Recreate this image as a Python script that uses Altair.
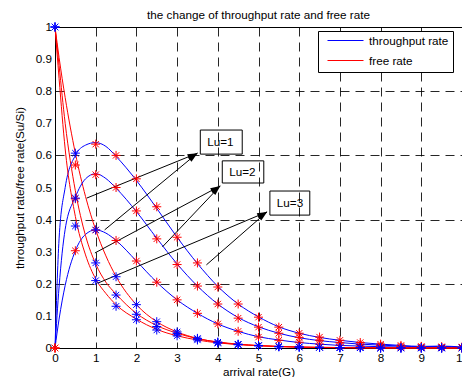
import math
import altair as alt
import pandas as pd

# ---------------- data ----------------
G_MARK = [0, 0.5, 1, 1.5, 2, 2.5, 3, 3.5, 4, 4.5, 5, 5.5, 6, 6.5, 7, 7.5, 8, 8.5, 9, 9.5, 10]

THR1_MARK = [0, 0.303, 0.367, 0.335, 0.271, 0.205, 0.150, 0.108, 0.075, 0.052, 0.034, 0.024, 0.018, 0.012, 0.008, 0.005, 0.003, 0.002, 0.001, 0.001, 0.0]
THR2_MARK = [0, 0.465, 0.540, 0.500, 0.427, 0.340, 0.260, 0.193, 0.137, 0.093, 0.065, 0.046, 0.033, 0.024, 0.016, 0.011, 0.008, 0.005, 0.003, 0.002, 0.001]
THR3_MARK = [0, 0.570, 0.635, 0.600, 0.527, 0.440, 0.345, 0.265, 0.190, 0.137, 0.096, 0.065, 0.046, 0.034, 0.024, 0.017, 0.012, 0.008, 0.005, 0.004, 0.003]

FREE1_MARK = [1, 0.607, 0.368, 0.222, 0.135, 0.082, 0.050, 0.030, 0.018, 0.011, 0.007, 0.004, 0.003, 0.002, 0.001, 0.001, 0.0, 0.0, 0.0, 0.0, 0.0]
FREE2_MARK = [1, 0.467, 0.265, 0.165, 0.105, 0.067, 0.045, 0.028, 0.018, 0.012, 0.008, 0.005, 0.003, 0.002, 0.001, 0.001, 0.0, 0.0, 0.0, 0.0, 0.0]
FREE3_MARK = [1, 0.380, 0.210, 0.130, 0.088, 0.056, 0.038, 0.025, 0.015, 0.010, 0.007, 0.004, 0.003, 0.002, 0.001, 0.001, 0.0, 0.0, 0.0, 0.0, 0.0]

G_LINE = [0, 0.1, 0.25, 0.5, 0.75, 1, 1.25, 1.5, 2, 2.5, 3, 3.5, 4, 4.5, 5, 5.5, 6, 6.5, 7, 7.5, 8, 8.5, 9, 9.5, 10]

THR1_LINE = [0, 0.09, 0.195, 0.303, 0.354, 0.368, 0.358, 0.335, 0.271, 0.205, 0.150, 0.108, 0.075, 0.052, 0.035, 0.025, 0.017, 0.012, 0.008, 0.006, 0.004, 0.003, 0.002, 0.003, 0.001]
THR2_LINE = [0, 0.19, 0.37, 0.47, 0.527, 0.543, 0.528, 0.498, 0.425, 0.342, 0.262, 0.193, 0.137, 0.095, 0.066, 0.046, 0.032, 0.023, 0.017, 0.012, 0.009, 0.006, 0.004, 0.005, 0.002]
THR3_LINE = [0, 0.34, 0.50, 0.60, 0.632, 0.640, 0.628, 0.597, 0.522, 0.435, 0.345, 0.263, 0.192, 0.137, 0.097, 0.066, 0.046, 0.033, 0.024, 0.017, 0.012, 0.008, 0.005, 0.006, 0.003]

FREE1_LINE = [1, 0.905, 0.78, 0.607, 0.472, 0.368, 0.287, 0.223, 0.135, 0.082, 0.050, 0.030, 0.018, 0.011, 0.007, 0.004, 0.0025, 0.0015, 0.001, 0.0006, 0.0003, 0.0002, 0.0001, 0.0, 0.0]
FREE2_LINE = [1, 0.88, 0.70, 0.49, 0.35, 0.262, 0.205, 0.168, 0.108, 0.070, 0.046, 0.029, 0.019, 0.012, 0.008, 0.005, 0.003, 0.002, 0.0015, 0.001, 0.0005, 0.0003, 0.0002, 0.0001, 0.0]
FREE3_LINE = [1, 0.84, 0.62, 0.41, 0.29, 0.215, 0.170, 0.135, 0.090, 0.058, 0.038, 0.025, 0.016, 0.011, 0.007, 0.005, 0.003, 0.002, 0.0013, 0.0008, 0.0005, 0.0003, 0.0002, 0.0001, 0.0]

SERIES_NAMES = ["throughput rate", "free rate"]
LU_LABELS = ["Lu=1", "Lu=2", "Lu=3"]

# annotation boxes (data coordinates)
BOX_G0 = [3.57, 4.11, 5.28]
BOX_G1 = [4.60, 5.13, 6.26]
BOX_Y0 = [0.604, 0.514, 0.414]
BOX_Y1 = [0.679, 0.583, 0.489]

# arrows: start on a curve, head at the box
ARROW_G0 = [0.78, 1.22, 0.98, 2.64, 1.05, 3.72]
ARROW_Y0 = [0.467, 0.368, 0.296, 0.315, 0.202, 0.259]
ARROW_G1 = [3.50, 3.50, 4.06, 4.06, 5.21, 5.21]
ARROW_Y1 = [0.607, 0.607, 0.505, 0.505, 0.424, 0.424]

TICKS_X = list(range(0, 11))
TICKS_Y = [0, 0.1, 0.2, 0.3, 0.4, 0.5, 0.6, 0.7, 0.8, 0.9, 1]
TICK_LABELS_Y = ["0", "0.1", "0.2", "0.3", "0.4", "0.5", "0.6", "0.7", "0.8", "0.9", "1"]

# ---------------- layout / style ----------------
W, H = 407, 321
FONT = "Liberation Sans"
FS = 11.7
BLUE = "#0000ff"
RED = "#ff0000"
ASTERISK = "M0,-1L0,1M-1,0L1,0M-0.7,-0.7L0.7,0.7M-0.7,0.7L0.7,-0.7"
ARROWHEAD = "M0,0L-0.55,2L0.55,2Z"

# ---------------- frames ----------------
line_rows = []
for lu, (thr, fr) in enumerate(zip([THR1_LINE, THR2_LINE, THR3_LINE],
                                   [FREE1_LINE, FREE2_LINE, FREE3_LINE]), start=1):
    for g, v in zip(G_LINE, thr):
        line_rows.append({"G": g, "v": v, "kind": SERIES_NAMES[0], "lu": lu})
    for g, v in zip(G_LINE, fr):
        line_rows.append({"G": g, "v": v, "kind": SERIES_NAMES[1], "lu": lu})
lines_df = pd.DataFrame(line_rows)

thr_mark_df = pd.DataFrame([{"G": g, "v": v, "lu": i}
                            for i, s in enumerate([THR1_MARK, THR2_MARK, THR3_MARK])
                            for g, v in zip(G_MARK, s)])
free_mark_df = pd.DataFrame([{"G": g, "v": v, "lu": i}
                             for i, s in enumerate([FREE1_MARK, FREE2_MARK, FREE3_MARK])
                             for g, v in zip(G_MARK, s)])

px_per_g = W / 10.0
px_per_y = H / 1.0
arrow_rows = []
for g0, y0, g1, y1 in zip(ARROW_G0, ARROW_Y0, ARROW_G1, ARROW_Y1):
    dx = (g1 - g0) * px_per_g
    dy = -(y1 - y0) * px_per_y
    ang = math.degrees(math.atan2(dx, -dy)) % 360
    arrow_rows.append({"g0": g0, "y0": y0, "g1": g1, "y1": y1, "ang": ang})
arrow_df = pd.DataFrame(arrow_rows)

box_df = pd.DataFrame({"g0": BOX_G0, "g1": BOX_G1, "y0": BOX_Y0, "y1": BOX_Y1,
                       "label": LU_LABELS,
                       "tg": [a + 0.17 for a in BOX_G0],
                       "ty": [(a + b) / 2 for a, b in zip(BOX_Y0, BOX_Y1)]})

ytick_df = pd.DataFrame({"t": TICKS_Y, "lab": TICK_LABELS_Y})

xscale = alt.Scale(domain=[0, 10], nice=False, zero=False)
yscale = alt.Scale(domain=[0, 1], nice=False, zero=False)

x_axis = alt.Axis(values=TICKS_X, format="d", title="arrival rate(G)", grid=True,
                  ticks=False, labelPadding=4, titlePadding=3, labelFlush=False,
                  labelOverlap=False)
y_axis = alt.Axis(values=TICKS_Y, title="throughput rate/free rate(Su/Si)",
                  labels=False, grid=True, ticks=False, titlePadding=30)

lines = alt.Chart(lines_df).mark_line(strokeWidth=1, interpolate="monotone").encode(
    x=alt.X("G:Q", scale=xscale, axis=x_axis),
    y=alt.Y("v:Q", scale=yscale, axis=y_axis),
    color=alt.Color("kind:N",
                    scale=alt.Scale(domain=SERIES_NAMES, range=[BLUE, RED]),
                    sort=SERIES_NAMES,
                    legend=alt.Legend(title=None, orient="none", legendX=263, legendY=4,
                                      direction="vertical", strokeColor="black",
                                      fillColor="white", padding=4,
                                      symbolType="stroke", symbolSize=1296,
                                      symbolStrokeWidth=1, symbolOffset=5,
                                      labelFont=FONT, labelFontSize=FS, labelColor="black",
                                      labelOffset=5, rowPadding=7, clipHeight=11)),
    detail="lu:N",
    order="G:Q",
)

ytick_labels = alt.Chart(ytick_df).mark_text(align="right", baseline="middle", font=FONT,
                                             fontSize=FS, color="black", dx=-3).encode(
    x=alt.value(0), y=alt.Y("t:Q"), text="lab:N")

rules = alt.Chart(arrow_df).mark_rule(color="black", strokeWidth=1).encode(
    x="g0:Q", y="y0:Q", x2="g1:Q", y2="y1:Q")

heads = alt.Chart(arrow_df).mark_point(shape=ARROWHEAD, filled=True, color="black",
                                       size=100, opacity=1).encode(
    x="g1:Q", y="y1:Q", angle=alt.Angle("ang:Q", scale=None))

boxes = alt.Chart(box_df).mark_rect(fillOpacity=0, stroke="black", strokeWidth=1).encode(
    x="g0:Q", x2="g1:Q", y="y0:Q", y2="y1:Q")

box_text = alt.Chart(box_df).mark_text(align="left", baseline="middle", font=FONT,
                                       fontSize=FS, color="black").encode(
    x="tg:Q", y="ty:Q", text="label:N")

thr_marks = alt.Chart(thr_mark_df).mark_point(shape=ASTERISK, filled=False, color=RED,
                                              size=81, strokeWidth=1, opacity=1).encode(
    x="G:Q", y="v:Q")
free_marks = alt.Chart(free_mark_df).mark_point(shape=ASTERISK, filled=False, color=BLUE,
                                                size=81, strokeWidth=1, opacity=1).encode(
    x="G:Q", y="v:Q")

chart = alt.layer(lines, ytick_labels, rules, heads, boxes, box_text, thr_marks,
                  free_marks).properties(
    width=W, height=H,
    padding={"left": 47, "top": 19, "right": 0, "bottom": 29},
    autosize=alt.AutoSizeParams(type="none"),
    background="white",
    title=alt.TitleParams("the change of throughput rate and free rate", font=FONT,
                          fontSize=FS, fontWeight="normal", color="black", offset=-1,
                          anchor="middle", frame="group"),
).configure_view(stroke="black", strokeWidth=1).configure_axis(
    labelFont=FONT, labelFontSize=FS, labelColor="black",
    titleFont=FONT, titleFontSize=FS, titleFontWeight="normal", titleColor="black",
    domainColor="black", gridColor="#000000", gridDash=[9, 6], gridOpacity=0.85,
    gridWidth=1,
)

chart.save("out.html", embed_options={"renderer": "svg", "actions": False})
